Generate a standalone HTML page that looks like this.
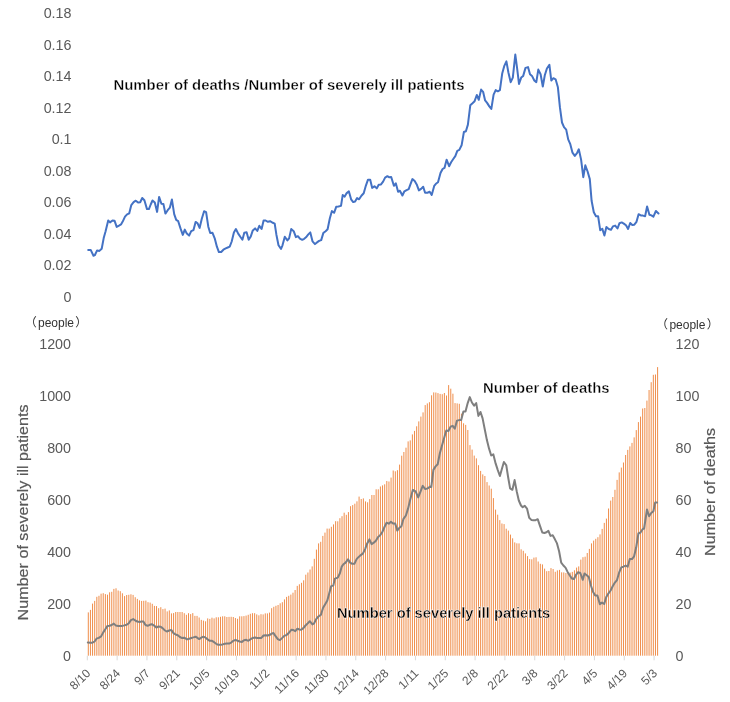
<!DOCTYPE html>
<html lang="en"><head><meta charset="utf-8"><title>Severely ill patients and deaths</title>
<style>html,body{margin:0;padding:0;background:#fff}svg{display:block}text{font-family:"Liberation Sans","Noto Sans CJK JP",sans-serif}.ax{font-size:14.3px;fill:#595959}.xl{font-size:12px;fill:#595959}.b{font-weight:bold;font-size:14.3px;fill:#000;stroke:#fff;stroke-width:0.35px}.pp{font-size:12px;fill:#333}.yt{font-size:15.2px;fill:#595959;stroke:#595959;stroke-width:0.2px}</style></head><body>
<svg width="730" height="702" viewBox="0 0 730 702">
<rect width="730" height="702" fill="#fff"/>
<text class="ax" x="71.5" y="18.1" text-anchor="end">0.18</text>
<text class="ax" x="71.5" y="49.6" text-anchor="end">0.16</text>
<text class="ax" x="71.5" y="81.2" text-anchor="end">0.14</text>
<text class="ax" x="71.5" y="112.7" text-anchor="end">0.12</text>
<text class="ax" x="71.5" y="144.3" text-anchor="end">0.1</text>
<text class="ax" x="71.5" y="175.8" text-anchor="end">0.08</text>
<text class="ax" x="71.5" y="207.3" text-anchor="end">0.06</text>
<text class="ax" x="71.5" y="238.9" text-anchor="end">0.04</text>
<text class="ax" x="71.5" y="270.4" text-anchor="end">0.02</text>
<text class="ax" x="71.5" y="302.0" text-anchor="end">0</text>
<polyline fill="none" stroke="#4472C4" stroke-width="2" stroke-linejoin="round" stroke-linecap="round" points="88.2,250.1 90.8,250.1 93.5,255.8 94.8,255.2 97.1,250.4 99.4,250.9 101.7,248.7 103.7,238.1 105.6,231.3 108.2,220.5 110.0,222.4 112.5,220.5 114.5,220.7 116.7,226.9 119.0,225.6 121.0,224.4 122.7,221.6 125.0,216.7 127.1,214.4 129.2,213.4 131.3,205.1 133.6,202.2 135.8,200.7 138.1,202.6 140.2,202.2 142.2,198.0 144.4,200.3 147.0,209.1 148.9,209.1 150.7,204.5 152.5,200.5 154.8,202.6 157.1,211.9 159.1,196.9 161.4,203.7 163.4,203.9 165.4,213.6 167.7,210.2 169.9,207.6 171.9,199.4 174.2,214.2 176.2,219.9 178.2,221.2 180.5,228.4 182.8,234.9 184.8,229.6 186.8,233.6 189.1,235.6 191.2,231.1 193.5,230.1 195.6,221.9 197.6,223.3 199.6,227.9 201.8,218.8 204.1,211.3 206.1,212.1 208.3,226.7 210.2,233.0 212.4,232.7 214.7,238.3 216.9,246.7 218.9,252.1 221.2,252.0 223.4,249.7 225.7,248.4 227.8,247.5 229.7,246.7 231.7,241.5 233.9,232.4 235.9,229.0 238.2,233.6 240.3,236.8 242.4,239.8 244.3,232.8 246.6,232.2 248.7,239.8 250.8,236.4 252.8,230.4 255.1,228.4 257.3,230.9 259.3,225.8 261.6,229.0 263.6,220.5 265.6,220.5 267.9,221.8 270.1,221.2 272.2,222.5 274.7,223.7 276.4,234.7 278.5,245.2 281.0,248.9 282.5,245.3 284.8,236.7 287.4,240.4 289.1,238.4 291.2,229.1 293.7,231.2 295.9,237.1 297.9,236.2 299.9,238.7 302.2,239.8 304.2,238.8 306.0,237.3 308.3,234.4 310.3,232.4 312.5,241.3 315.0,244.1 317.0,242.4 319.1,240.9 321.2,240.1 323.3,233.1 325.6,231.2 327.6,229.3 329.8,218.5 331.9,211.1 334.1,212.8 336.2,206.8 338.4,206.5 341.0,205.9 342.7,195.1 344.7,196.6 346.7,193.1 348.9,191.4 351.1,199.3 353.2,202.1 355.1,201.5 357.1,198.1 359.1,199.3 361.4,195.8 363.7,193.3 365.9,185.6 368.0,179.7 370.2,179.7 372.2,187.9 374.5,186.2 376.8,188.4 378.7,184.7 381.0,184.4 383.1,181.6 385.1,177.6 387.4,176.2 389.3,177.3 391.2,177.0 393.9,185.8 395.8,183.3 398.1,191.8 399.9,190.7 402.4,195.5 404.4,191.3 406.6,190.1 408.7,189.2 410.6,183.9 412.4,179.1 414.7,181.0 416.7,184.4 418.9,190.4 421.1,188.9 423.2,186.7 425.1,192.7 427.4,192.7 429.7,191.8 431.7,194.9 434.2,185.9 435.9,183.8 438.0,182.3 440.5,173.0 442.6,169.0 444.5,167.9 446.6,159.7 449.1,166.2 451.1,162.2 453.1,159.3 455.3,156.2 457.3,150.8 459.3,149.9 461.6,145.3 463.9,132.0 465.9,131.2 467.9,124.6 470.3,105.2 472.5,103.2 474.6,101.2 476.8,95.0 478.8,99.8 481.1,89.6 483.1,91.8 485.1,100.4 487.1,102.9 489.3,106.4 491.3,109.0 493.6,94.7 495.7,90.1 497.8,91.3 499.9,90.1 502.2,73.6 504.2,66.2 506.4,61.4 508.4,72.5 510.7,82.2 512.8,77.6 515.3,54.6 517.0,67.3 519.0,83.9 521.2,77.6 523.2,75.9 525.5,67.9 528.0,67.1 530.0,74.2 532.0,75.9 534.3,80.5 536.3,82.2 538.3,69.6 540.6,74.2 542.8,86.5 544.8,75.3 546.9,68.5 549.4,64.8 551.3,80.5 553.4,78.2 555.6,79.3 557.9,87.3 559.9,107.2 562.0,122.5 564.0,127.1 566.2,129.6 568.2,139.4 570.3,144.2 572.5,152.7 574.8,155.9 577.0,153.1 578.8,149.3 581.1,159.6 583.3,177.2 585.3,165.3 587.6,171.5 589.8,179.1 591.6,200.8 593.8,212.2 596.0,216.2 598.1,216.2 600.2,230.2 602.3,228.7 604.4,235.5 606.4,227.0 608.7,229.0 611.0,229.8 612.9,226.4 615.2,225.6 617.5,228.5 619.5,223.2 621.7,222.4 623.8,223.6 626.0,225.3 628.1,229.0 630.2,223.0 632.3,225.0 634.3,224.7 636.5,221.8 638.6,214.2 640.8,215.4 642.9,215.6 645.1,216.2 647.1,206.5 649.4,214.7 651.4,215.4 653.4,216.7 655.9,211.0 658.5,213.5"/>
<text class="b" x="113.5" y="90.2" textLength="351" lengthAdjust="spacingAndGlyphs">Number of deaths /Number of severely ill patients</text>
<text class="pp" x="56" y="327" text-anchor="middle">（<tspan dx="1.3">people</tspan><tspan dx="1.3">）</tspan></text>
<text class="pp" x="687.4" y="329.3" text-anchor="middle">（<tspan dx="1.3">people</tspan><tspan dx="1.3">）</tspan></text>
<text class="ax" x="71" y="349.2" text-anchor="end">1200</text>
<text class="ax" x="71" y="401.2" text-anchor="end">1000</text>
<text class="ax" x="71" y="453.1" text-anchor="end">800</text>
<text class="ax" x="71" y="505.1" text-anchor="end">600</text>
<text class="ax" x="71" y="557.1" text-anchor="end">400</text>
<text class="ax" x="71" y="609.0" text-anchor="end">200</text>
<text class="ax" x="71" y="661.0" text-anchor="end">0</text>
<text class="ax" x="675.6" y="349.2">120</text>
<text class="ax" x="675.6" y="401.2">100</text>
<text class="ax" x="675.6" y="453.1">80</text>
<text class="ax" x="675.6" y="505.1">60</text>
<text class="ax" x="675.6" y="557.1">40</text>
<text class="ax" x="675.6" y="609.0">20</text>
<text class="ax" x="675.6" y="661.0">0</text>
<path d="M88.30 655.7V612.4M90.43 655.7V609.9M92.56 655.7V603.6M94.70 655.7V600.9M96.83 655.7V596.8M98.96 655.7V595.8M101.09 655.7V593.7M103.23 655.7V593.2M105.36 655.7V594.1M107.49 655.7V594.7M109.62 655.7V592.3M111.75 655.7V591.8M113.89 655.7V588.9M116.02 655.7V588.3M118.15 655.7V590.5M120.28 655.7V591.2M122.42 655.7V593.3M124.55 655.7V596.1M126.68 655.7V595.0M128.81 655.7V594.8M130.94 655.7V594.3M133.08 655.7V594.9M135.21 655.7V597.2M137.34 655.7V598.9M139.47 655.7V600.3M141.61 655.7V600.9M143.74 655.7V600.8M145.87 655.7V600.6M148.00 655.7V602.2M150.13 655.7V602.6M152.27 655.7V603.8M154.40 655.7V605.9M156.53 655.7V606.1M158.66 655.7V608.2M160.80 655.7V607.2M162.93 655.7V609.1M165.06 655.7V608.6M167.19 655.7V611.4M169.32 655.7V610.4M171.46 655.7V613.4M173.59 655.7V613.1M175.72 655.7V612.0M177.85 655.7V612.0M179.99 655.7V612.0M182.12 655.7V612.0M184.25 655.7V613.2M186.38 655.7V614.8M188.51 655.7V613.2M190.65 655.7V614.1M192.78 655.7V613.1M194.91 655.7V615.9M197.04 655.7V615.9M199.17 655.7V617.5M201.31 655.7V619.9M203.44 655.7V620.6M205.57 655.7V621.3M207.70 655.7V618.4M209.84 655.7V618.9M211.97 655.7V617.7M214.10 655.7V618.4M216.23 655.7V617.3M218.36 655.7V617.3M220.50 655.7V616.8M222.63 655.7V616.3M224.76 655.7V616.3M226.89 655.7V617.0M229.03 655.7V616.9M231.16 655.7V616.8M233.29 655.7V617.0M235.42 655.7V618.0M237.55 655.7V618.8M239.69 655.7V616.3M241.82 655.7V616.3M243.95 655.7V616.1M246.08 655.7V615.6M248.22 655.7V614.8M250.35 655.7V613.8M252.48 655.7V613.2M254.61 655.7V613.2M256.74 655.7V614.4M258.88 655.7V615.3M261.01 655.7V614.2M263.14 655.7V614.4M265.27 655.7V613.4M267.41 655.7V613.4M269.54 655.7V612.6M271.67 655.7V608.2M273.80 655.7V606.8M275.93 655.7V605.8M278.07 655.7V605.0M280.20 655.7V603.3M282.33 655.7V602.2M284.46 655.7V599.4M286.60 655.7V596.9M288.73 655.7V595.8M290.86 655.7V594.6M292.99 655.7V592.7M295.12 655.7V590.0M297.26 655.7V585.9M299.39 655.7V584.3M301.52 655.7V582.8M303.65 655.7V580.3M305.79 655.7V574.7M307.92 655.7V572.5M310.05 655.7V569.5M312.18 655.7V566.4M314.31 655.7V558.8M316.45 655.7V549.6M318.58 655.7V543.4M320.71 655.7V541.8M322.84 655.7V535.9M324.98 655.7V532.6M327.11 655.7V528.6M329.24 655.7V528.6M331.37 655.7V526.8M333.50 655.7V524.4M335.64 655.7V521.2M337.77 655.7V521.3M339.90 655.7V518.2M342.03 655.7V516.2M344.17 655.7V512.7M346.30 655.7V514.8M348.43 655.7V512.1M350.56 655.7V506.2M352.69 655.7V505.1M354.83 655.7V503.7M356.96 655.7V501.3M359.09 655.7V496.6M361.22 655.7V499.0M363.36 655.7V498.4M365.49 655.7V501.4M367.62 655.7V502.3M369.75 655.7V499.1M371.88 655.7V495.0M374.02 655.7V495.0M376.15 655.7V489.3M378.28 655.7V489.3M380.41 655.7V486.5M382.54 655.7V485.4M384.68 655.7V484.3M386.81 655.7V481.0M388.94 655.7V481.5M391.07 655.7V477.6M393.21 655.7V470.5M395.34 655.7V471.3M397.47 655.7V470.2M399.60 655.7V464.6M401.73 655.7V455.7M403.87 655.7V452.0M406.00 655.7V447.7M408.13 655.7V441.4M410.26 655.7V440.4M412.40 655.7V434.4M414.53 655.7V430.9M416.66 655.7V426.3M418.79 655.7V421.4M420.92 655.7V416.6M423.06 655.7V412.4M425.19 655.7V405.1M427.32 655.7V403.4M429.45 655.7V402.2M431.59 655.7V395.3M433.72 655.7V392.4M435.85 655.7V392.5M437.98 655.7V393.1M440.11 655.7V393.9M442.25 655.7V394.2M444.38 655.7V393.0M446.51 655.7V395.5M448.64 655.7V385.1M450.78 655.7V388.7M452.91 655.7V393.7M455.04 655.7V403.1M457.17 655.7V403.4M459.30 655.7V403.8M461.44 655.7V413.7M463.57 655.7V423.3M465.70 655.7V424.9M467.83 655.7V430.0M469.97 655.7V445.1M472.10 655.7V449.6M474.23 655.7V455.6M476.36 655.7V458.4M478.49 655.7V465.2M480.63 655.7V470.9M482.76 655.7V474.4M484.89 655.7V476.0M487.02 655.7V482.1M489.16 655.7V485.5M491.29 655.7V488.7M493.42 655.7V498.1M495.55 655.7V509.6M497.68 655.7V514.7M499.82 655.7V520.1M501.95 655.7V523.5M504.08 655.7V524.1M506.21 655.7V528.7M508.35 655.7V530.6M510.48 655.7V534.6M512.61 655.7V538.3M514.74 655.7V542.4M516.87 655.7V543.3M519.01 655.7V543.4M521.14 655.7V549.3M523.27 655.7V550.8M525.40 655.7V553.4M527.54 655.7V556.1M529.67 655.7V559.1M531.80 655.7V559.3M533.93 655.7V557.6M536.06 655.7V557.3M538.20 655.7V561.5M540.33 655.7V563.8M542.46 655.7V564.4M544.59 655.7V568.6M546.73 655.7V571.2M548.86 655.7V571.0M550.99 655.7V568.1M553.12 655.7V569.0M555.25 655.7V571.8M557.39 655.7V570.4M559.52 655.7V569.9M561.65 655.7V572.3M563.78 655.7V572.4M565.91 655.7V573.0M568.05 655.7V572.6M570.18 655.7V572.6M572.31 655.7V571.9M574.44 655.7V570.3M576.58 655.7V567.6M578.71 655.7V566.4M580.84 655.7V559.6M582.97 655.7V557.2M585.10 655.7V556.7M587.24 655.7V553.0M589.37 655.7V548.9M591.50 655.7V543.4M593.63 655.7V540.6M595.77 655.7V538.8M597.90 655.7V537.2M600.03 655.7V534.4M602.16 655.7V528.9M604.29 655.7V522.9M606.43 655.7V518.6M608.56 655.7V508.5M610.69 655.7V500.6M612.82 655.7V497.0M614.96 655.7V489.8M617.09 655.7V479.9M619.22 655.7V472.4M621.35 655.7V467.6M623.48 655.7V462.5M625.62 655.7V455.0M627.75 655.7V449.9M629.88 655.7V446.4M632.01 655.7V442.9M634.15 655.7V437.4M636.28 655.7V430.1M638.41 655.7V422.1M640.54 655.7V416.6M642.67 655.7V408.5M644.81 655.7V408.0M646.94 655.7V400.6M649.07 655.7V390.0M651.20 655.7V382.2M653.34 655.7V374.8M655.47 655.7V374.5M657.60 655.7V367.1" stroke="#ED7D31" stroke-width="0.88" fill="none"/>
<path d="M87.30 655.7v4.6M117.13 655.7v4.6M146.96 655.7v4.6M176.79 655.7v4.6M206.62 655.7v4.6M236.45 655.7v4.6M266.28 655.7v4.6M296.11 655.7v4.6M325.94 655.7v4.6M355.77 655.7v4.6M385.60 655.7v4.6M415.43 655.7v4.6M445.26 655.7v4.6M475.09 655.7v4.6M504.92 655.7v4.6M534.75 655.7v4.6M564.58 655.7v4.6M594.41 655.7v4.6M624.24 655.7v4.6M654.07 655.7v4.6" stroke="#D9D9D9" stroke-width="1" fill="none"/>
<polyline fill="none" stroke="#7F7F7F" stroke-width="2" stroke-linejoin="round" stroke-linecap="round" points="87.8,642.5 90.3,642.7 92.5,642.7 94.6,641.5 96.8,638.4 98.8,637.9 101.1,636.4 103.1,632.6 105.3,629.2 107.3,626.1 109.6,625.8 111.7,625.0 113.8,623.6 115.9,625.6 118.2,625.9 120.2,625.9 122.4,625.9 124.4,625.4 126.7,624.8 128.8,623.3 130.9,620.1 133.2,619.1 135.3,620.5 137.3,621.6 139.5,621.9 141.5,621.6 143.2,621.4 145.5,625.0 147.6,625.8 149.7,624.8 151.8,624.2 154.1,625.6 156.3,627.6 158.4,626.5 160.7,626.7 162.8,628.4 165.0,630.5 166.8,631.5 169.2,630.5 171.4,630.1 173.5,633.1 175.6,634.5 177.8,635.2 179.9,637.0 182.1,638.1 184.2,637.7 187.0,639.4 189.2,638.8 191.3,638.0 193.4,637.4 195.6,636.7 199.2,639.1 201.3,637.7 203.4,636.7 205.6,637.7 207.7,639.4 209.8,640.8 212.0,640.8 214.1,642.2 216.2,643.8 218.4,644.8 220.5,644.8 222.7,644.4 224.8,643.8 226.9,643.6 229.1,643.6 231.2,642.6 233.3,640.8 235.5,639.8 237.6,640.8 239.7,641.5 241.9,641.9 244.0,640.2 246.2,639.8 248.3,640.8 250.7,639.1 252.8,637.9 255.0,637.6 257.1,637.9 259.2,637.9 261.4,637.9 263.5,635.5 265.6,635.2 267.8,635.5 269.9,634.8 272.1,633.4 273.5,633.1 275.6,636.2 277.8,639.1 279.9,640.1 282.0,638.1 284.2,635.9 286.3,635.1 288.4,633.4 291.3,629.8 293.4,630.1 295.3,631.2 297.4,628.7 299.5,629.5 301.2,629.8 303.4,628.1 305.5,625.5 307.7,623.4 309.8,621.2 312.4,624.4 314.1,623.4 316.2,619.1 318.4,616.5 320.9,614.8 323.1,607.7 325.2,604.2 327.3,600.6 329.0,594.2 331.2,586.1 333.3,585.6 334.9,578.6 337.8,577.6 339.9,573.3 341.6,566.9 343.4,564.3 345.6,562.6 348.0,559.3 350.1,562.6 352.3,563.8 354.4,563.8 356.6,559.1 358.7,556.9 360.8,555.1 363.0,553.4 365.1,549.1 367.2,543.4 369.4,539.4 371.6,544.1 373.8,542.7 375.9,540.8 378.1,537.0 380.2,535.3 382.3,532.0 384.5,527.0 386.6,522.7 388.8,523.7 390.9,521.7 393.0,523.5 395.2,523.5 397.3,530.6 399.2,528.0 401.4,526.2 403.5,518.8 405.9,515.5 408.1,508.4 410.2,499.8 412.8,489.9 415.6,491.3 418.2,497.4 420.6,491.3 422.7,485.9 425.3,489.1 427.7,488.4 429.9,486.7 431.3,487.0 433.4,469.9 435.6,466.4 437.7,464.2 439.8,453.5 442.0,445.4 443.4,440.5 446.3,430.5 448.4,431.0 450.6,426.7 452.7,425.8 454.8,428.7 457.0,420.6 459.1,420.1 461.2,419.9 463.4,411.6 465.5,411.6 467.7,403.1 469.8,397.1 471.9,402.5 474.1,405.6 476.2,403.1 478.4,415.9 480.5,412.0 482.6,418.4 484.8,429.5 486.9,440.1 489.0,448.4 491.2,455.5 493.3,454.3 495.6,463.4 497.8,470.1 499.9,476.0 502.0,468.4 503.9,462.0 506.3,465.3 508.1,477.0 510.1,488.4 512.4,489.8 514.6,480.1 516.7,491.2 518.8,500.5 521.0,505.5 522.7,507.2 524.8,505.9 527.0,508.6 529.2,517.8 531.3,519.9 533.5,520.2 535.6,520.2 537.7,519.2 539.9,525.6 542.3,532.5 544.4,533.0 546.5,532.3 548.4,530.9 550.5,535.9 552.7,535.3 554.8,539.1 557.0,543.4 559.1,551.2 561.2,562.6 563.4,565.5 565.5,567.6 567.6,571.9 569.8,575.5 571.9,578.6 574.0,579.0 576.0,574.8 578.1,572.2 580.3,573.0 582.8,579.8 584.5,573.4 586.7,575.2 588.8,577.0 590.9,585.5 593.1,591.9 595.2,595.5 597.4,595.5 599.9,604.3 602.0,602.6 604.2,604.0 606.3,596.9 608.5,593.3 610.6,590.5 612.7,586.2 614.9,582.6 617.0,580.1 619.1,572.7 621.3,567.4 623.4,566.7 625.6,565.6 627.7,566.7 629.8,558.9 632.0,559.1 634.1,556.3 636.2,547.3 638.4,533.5 640.5,532.5 642.6,529.2 644.1,528.5 647.0,509.5 649.1,516.2 651.2,513.0 653.4,511.2 655.2,502.4 657.0,502.6"/>
<text class="b" x="483" y="392.6" textLength="126.5" lengthAdjust="spacingAndGlyphs">Number of deaths</text>
<text class="b" x="337" y="618" textLength="213.3" lengthAdjust="spacingAndGlyphs">Number of severely ill patients</text>
<text class="yt" transform="translate(27.6,620.4) rotate(-90)" textLength="216" lengthAdjust="spacingAndGlyphs">Number of severely ill patients</text>
<text class="yt" transform="translate(714.8,555.9) rotate(-90)" textLength="128" lengthAdjust="spacingAndGlyphs">Number of deaths</text>
<text class="xl" text-anchor="end" transform="translate(91.1,674) rotate(-45)">8/10</text>
<text class="xl" text-anchor="end" transform="translate(120.9,674) rotate(-45)">8/24</text>
<text class="xl" text-anchor="end" transform="translate(150.8,674) rotate(-45)">9/7</text>
<text class="xl" text-anchor="end" transform="translate(180.6,674) rotate(-45)">9/21</text>
<text class="xl" text-anchor="end" transform="translate(210.4,674) rotate(-45)">10/5</text>
<text class="xl" text-anchor="end" transform="translate(240.2,674) rotate(-45)">10/19</text>
<text class="xl" text-anchor="end" transform="translate(270.1,674) rotate(-45)">11/2</text>
<text class="xl" text-anchor="end" transform="translate(299.9,674) rotate(-45)">11/16</text>
<text class="xl" text-anchor="end" transform="translate(329.7,674) rotate(-45)">11/30</text>
<text class="xl" text-anchor="end" transform="translate(359.6,674) rotate(-45)">12/14</text>
<text class="xl" text-anchor="end" transform="translate(389.4,674) rotate(-45)">12/28</text>
<text class="xl" text-anchor="end" transform="translate(419.2,674) rotate(-45)">1/11</text>
<text class="xl" text-anchor="end" transform="translate(449.1,674) rotate(-45)">1/25</text>
<text class="xl" text-anchor="end" transform="translate(478.9,674) rotate(-45)">2/8</text>
<text class="xl" text-anchor="end" transform="translate(508.7,674) rotate(-45)">2/22</text>
<text class="xl" text-anchor="end" transform="translate(538.5,674) rotate(-45)">3/8</text>
<text class="xl" text-anchor="end" transform="translate(568.4,674) rotate(-45)">3/22</text>
<text class="xl" text-anchor="end" transform="translate(598.2,674) rotate(-45)">4/5</text>
<text class="xl" text-anchor="end" transform="translate(628.0,674) rotate(-45)">4/19</text>
<text class="xl" text-anchor="end" transform="translate(657.9,674) rotate(-45)">5/3</text>
</svg></body></html>
